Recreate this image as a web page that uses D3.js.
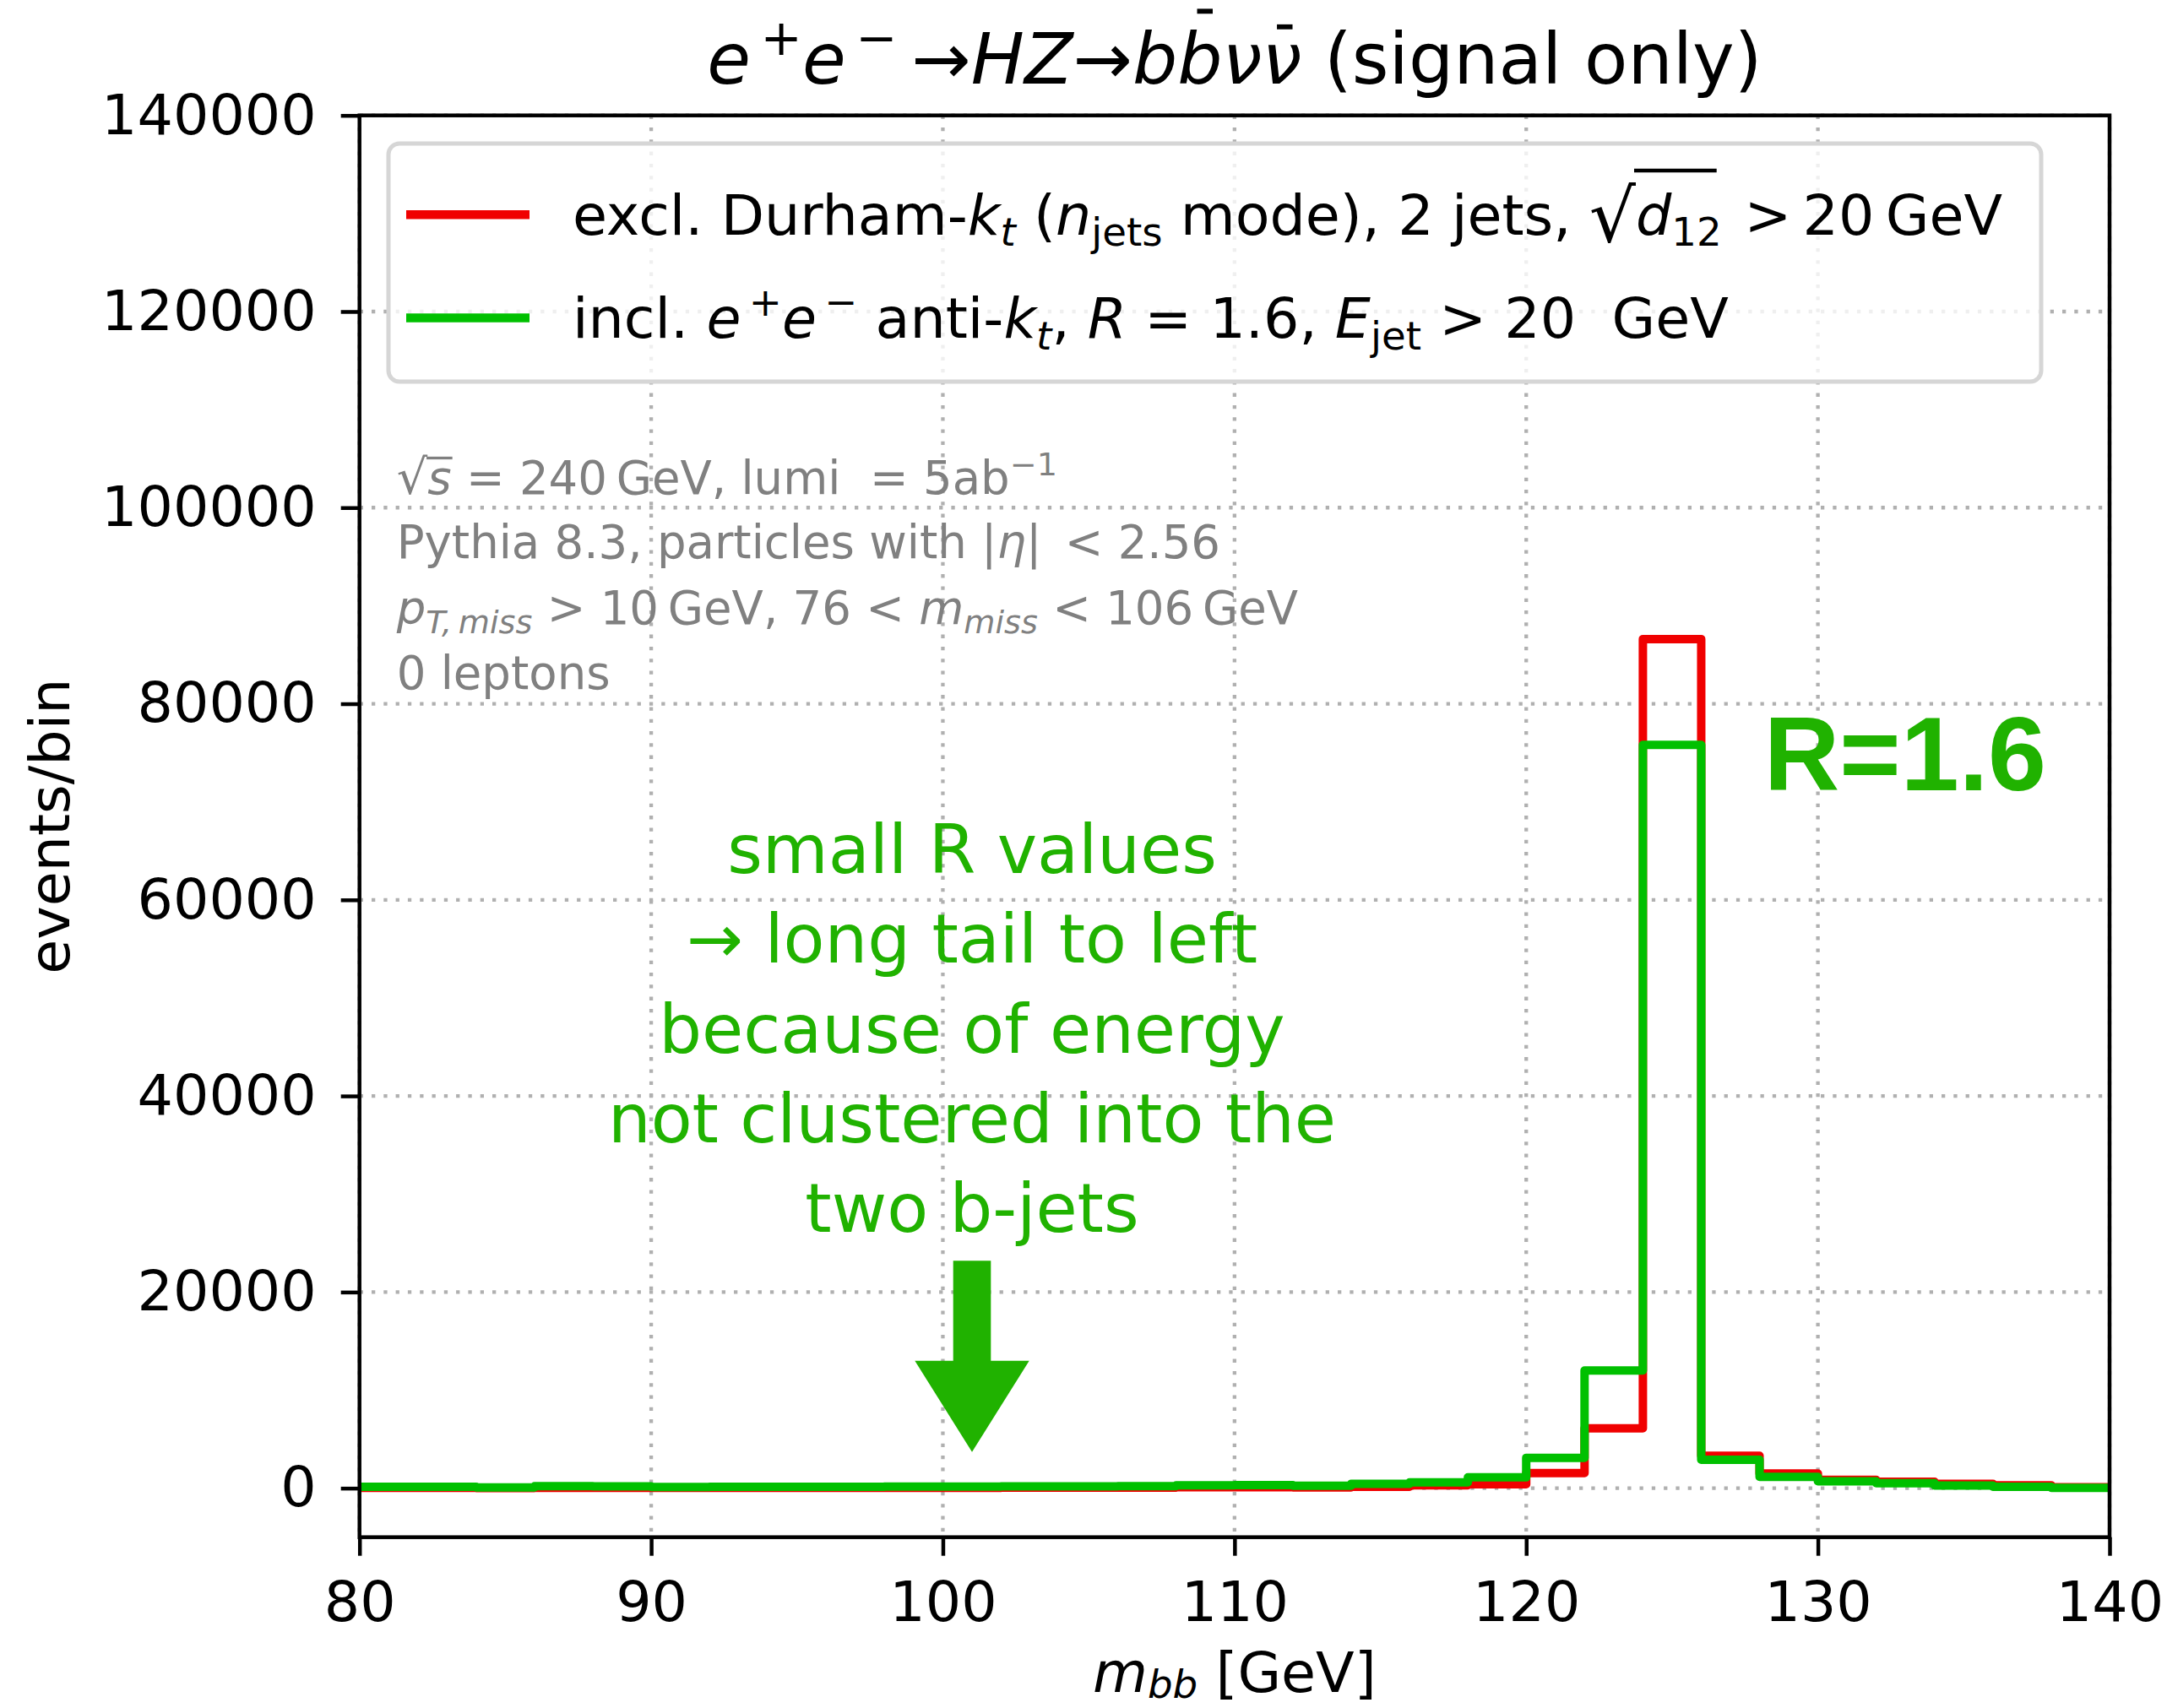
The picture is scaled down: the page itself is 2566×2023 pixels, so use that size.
<!DOCTYPE html>
<html>
<head>
<meta charset="utf-8">
<script src="https://cdn.jsdelivr.net/npm/d3@7"></script>
<style>
  html, body { margin: 0; padding: 0; background: #fff; }
  svg text { white-space: pre; }
</style>
</head>
<body>
<svg id="chart" width="2566" height="2023"></svg>
<script>
// ---- data: m_bb histogram, 2 GeV bins ----
const binLow = [80, 82, 84, 86, 88, 90, 92, 94, 96, 98, 100, 102, 104, 106, 108,
                110, 112, 114, 116, 118, 120, 122, 124, 126, 128, 130, 132, 134, 136, 138];
const binWidth = 2;
// exclusive Durham-kt, 2 jets
const durham = [30, 30, 20, 30, 30, 30, 30, 30, 40, 40, 40, 50, 50, 60, 100,
                100, 80, 150, 300, 400, 1550, 6100, 86600, 3300, 1500, 850, 650, 450, 300, 100];
// inclusive e+e- anti-kt, R = 1.6
const antikt = [150, 150, 80, 200, 180, 120, 130, 140, 150, 160, 170, 180, 190, 200, 300,
                320, 250, 450, 600, 1100, 3100, 12000, 75800, 2900, 1150, 700, 500, 280, 150, 30];

const xTicks = [80, 90, 100, 110, 120, 130, 140];
const yTicks = [0, 20000, 40000, 60000, 80000, 100000, 120000, 140000];
const xDomain = [80, 140];
const yDomain = [-5000, 140000];

const seriesNames = ["durham", "antikt"];
const seriesColors = ["#f00000", "#00c000"];

// arrow pointing at the low-mass tail (data units)
const arrowX = 101;
const arrowTail = 23200;
const arrowHeadBase = 13000;
const arrowTip = 3700;

const noteLines = ["small R values", "\u2192 long tail to left", "because of energy",
                   "not clustered into the", "two b-jets"];

// ---- layout ----
const FONT = "DejaVu Sans";
const W = 2566, H = 2023;
const pLeft = 425.7, pRight = 2498, pTop = 136.7, pBottom = 1820.7;
const svg = d3.select("#chart");
svg.append("rect").attr("width", W).attr("height", H).attr("fill", "#fff");

const x = d3.scaleLinear().domain(xDomain).range([pLeft, pRight]);
const y = d3.scaleLinear().domain(yDomain).range([pBottom, pTop]);

// rich text: segments with italic / sub / sup / overline options
function richText(parent, segs, o) {
  const size = o.size;
  const subShift = o.subShift != null ? o.subShift : 0.2;
  const t = parent.append("text")
    .attr("x", o.x).attr("y", o.y)
    .attr("font-family", o.family || FONT)
    .attr("font-size", size)
    .attr("text-anchor", o.anchor || "start")
    .attr("fill", o.fill || "#000")
    .attr("xml:space", "preserve");
  let cur = 0, idx = 0;
  const marks = [];
  segs.forEach(s => {
    const scale = (s.sub || s.sup) ? 0.7 : (s.scale || 1);
    const off = s.sub ? subShift * size : s.sup ? -0.4 * size : (s.shift || 0) * size;
    const sp = t.append("tspan").text(s.t).attr("font-size", size * scale);
    if (off - cur !== 0) sp.attr("dy", off - cur);
    if (s.i) sp.attr("font-style", "italic");
    cur = off;
    if (s.over) marks.push({ from: idx, to: idx + s.t.length - 1, over: s.over });
    idx += s.t.length;
  });
  const node = t.node();
  marks.forEach(m => {
    const a = node.getStartPositionOfChar(m.from);
    const b = node.getEndPositionOfChar(m.to);
    const yy = o.y - m.over.h * size;
    let x0 = a.x + (m.over.dx0 || 0) * size, x1 = b.x + (m.over.dx1 || 0) * size;
    if (m.over.accent) {
      const c = (a.x + b.x) / 2 + (m.over.shift || 0) * size;
      x0 = c - m.over.accent * size / 2; x1 = c + m.over.accent * size / 2;
    }
    parent.append("line")
      .attr("x1", x0).attr("x2", x1).attr("y1", yy).attr("y2", yy)
      .attr("stroke", o.fill || "#000").attr("stroke-width", (m.over.w || 0.075) * size);
  });
  return t;
}

// ---- grid ----
const grid = svg.append("g").attr("stroke", "#b0b0b0").attr("stroke-width", 4.3)
  .attr("stroke-dasharray", "4.3,10");
grid.selectAll("line.gx").data(xTicks).join("line").attr("class", "gx")
  .attr("x1", d => x(d)).attr("x2", d => x(d)).attr("y1", pTop).attr("y2", pBottom);
grid.selectAll("line.gy").data(yTicks).join("line").attr("class", "gy")
  .attr("y1", d => y(d)).attr("y2", d => y(d)).attr("x1", pLeft).attr("x2", pRight);

// ---- histograms ----
svg.append("clipPath").attr("id", "plotclip").append("rect")
  .attr("x", pLeft).attr("y", pTop).attr("width", pRight - pLeft).attr("height", pBottom - pTop);

function stepPoints(vals) {
  const pts = [[binLow[0], 0]];
  vals.forEach((v, i) => pts.push([binLow[i], v]));
  const end = binLow[binLow.length - 1] + binWidth;
  pts.push([end, vals[vals.length - 1]]);
  pts.push([end, 0]);
  return pts;
}
const stepLine = d3.line().x(d => x(d[0])).y(d => y(d[1])).curve(d3.curveStepAfter);
const hist = svg.append("g").attr("clip-path", "url(#plotclip)");
[durham, antikt].forEach((vals, k) => {
  hist.append("path").attr("d", stepLine(stepPoints(vals)))
    .attr("fill", "none").attr("stroke", seriesColors[k]).attr("stroke-width", 10)
    .attr("stroke-linejoin", "round").attr("stroke-linecap", "butt")
    .attr("class", seriesNames[k]);
});

// ---- axes ----
const xAxis = svg.append("g").attr("transform", `translate(0,${pBottom})`)
  .call(d3.axisBottom(x).tickValues(xTicks).tickSize(22).tickPadding(30).tickFormat(d3.format("d")));
const yAxis = svg.append("g").attr("transform", `translate(${pLeft},0)`)
  .call(d3.axisLeft(y).tickValues(yTicks).tickSize(22).tickPadding(29).tickFormat(d3.format("d")));
[xAxis, yAxis].forEach(a => {
  a.select(".domain").remove();
  a.selectAll(".tick line").attr("stroke", "#000").attr("stroke-width", 4.5);
  a.selectAll(".tick text").attr("font-family", FONT).attr("font-size", 66.7).attr("fill", "#000");
});

// spines
svg.append("rect").attr("x", pLeft).attr("y", pTop).attr("width", pRight - pLeft).attr("height", pBottom - pTop)
  .attr("fill", "none").attr("stroke", "#000").attr("stroke-width", 4.5);

// ---- title & axis labels ----
const midX = (pLeft + pRight) / 2;
richText(svg, [
  { t: "e", i: 1 }, { t: "\u2009+", sup: 1 }, { t: "e", i: 1 }, { t: "\u2009\u2212", sup: 1 },
  { t: "\u2009\u2192" }, { t: "HZ", i: 1 }, { t: "\u2192" },
  { t: "b", i: 1 }, { t: "b", i: 1, over: { accent: 0.22, h: 1.02, shift: 0.07, w: 0.07 } },
  { t: "\u03bd", i: 1 }, { t: "\u03bd", i: 1, over: { accent: 0.22, h: 0.8, shift: 0.04, w: 0.07 } },
  { t: " (signal only)" }
], { x: midX, y: 99, size: 84, anchor: "middle" });

richText(svg, [{ t: "m", i: 1 }, { t: "bb", i: 1, sub: 1 }, { t: " [GeV]" }],
  { x: midX, y: 2004, size: 66.7, anchor: "middle", subShift: 0.11 });

svg.append("text").attr("transform", `translate(82,${(pTop + pBottom) / 2}) rotate(-90)`)
  .attr("text-anchor", "middle").attr("font-family", FONT).attr("font-size", 66.7)
  .text("events/bin");

// ---- info text ----
const gray = "#808080";
const infoX = pLeft + 44;
const infoSize = 54.5;
richText(svg, [
  { t: "\u221a", scale: 1.05 }, { t: "s", i: 1, over: { h: 0.78, dx0: -0.02, dx1: 0.02, w: 0.06 } },
  { t: " = 240\u2009GeV, lumi  = 5ab" }, { t: "\u22121", sup: 1 }
], { x: infoX, y: 585, size: infoSize, fill: gray });
richText(svg, [
  { t: "Pythia 8.3, particles with |" }, { t: "\u03b7", i: 1 }, { t: "|\u2002< 2.56" }
], { x: infoX, y: 661, size: infoSize, fill: gray });
richText(svg, [
  { t: "p", i: 1 }, { t: "T,\u2009miss", i: 1, sub: 1 }, { t: " > 10\u2009GeV, 76 < " },
  { t: "m", i: 1 }, { t: "miss", i: 1, sub: 1 }, { t: " < 106\u2009GeV" }
], { x: infoX, y: 739, size: infoSize, fill: gray });
richText(svg, [{ t: "0 leptons" }], { x: infoX, y: 816, size: infoSize, fill: gray });

// ---- annotation: low-mass tail ----
const noteColor = "#20b200";
const note = svg.append("g").attr("font-family", FONT).attr("font-size", 80)
  .attr("fill", noteColor).attr("text-anchor", "middle");
note.selectAll("text").data(noteLines).join("text")
  .attr("x", x(arrowX)).attr("y", (d, i) => 1034 + i * 106.3).text(d => d);

const shaftHalf = 22.3, headHalf = 67.7;
const ax = x(arrowX);
svg.append("path").attr("fill", noteColor).attr("d", d3.line()([
  [ax - shaftHalf, y(arrowTail)], [ax + shaftHalf, y(arrowTail)],
  [ax + shaftHalf, y(arrowHeadBase)], [ax + headHalf, y(arrowHeadBase)],
  [ax, y(arrowTip)], [ax - headHalf, y(arrowHeadBase)],
  [ax - shaftHalf, y(arrowHeadBase)]
]) + "Z");

svg.append("text").attr("x", x(128.15)).attr("y", y(71200))
  .attr("font-family", "Liberation Sans").attr("font-weight", "bold").attr("font-size", 124)
  .attr("fill", noteColor).text("R=1.6");

// ---- legend ----
const leg = svg.append("g");
leg.append("rect").attr("x", 460).attr("y", 170).attr("width", 1957).attr("height", 282)
  .attr("rx", 13).attr("fill", "#fff").attr("fill-opacity", 0.8)
  .attr("stroke", "#d6d6d6").attr("stroke-width", 5);
const legY = [254.3, 376.5];
seriesColors.forEach((c, k) => {
  leg.append("line").attr("x1", 481).attr("x2", 627).attr("y1", legY[k]).attr("y2", legY[k])
    .attr("stroke", c).attr("stroke-width", 10.5);
});
richText(leg, [
  { t: "excl. Durham-" }, { t: "k", i: 1 }, { t: "t", i: 1, sub: 1 }, { t: " (" },
  { t: "n", i: 1 }, { t: "jets", sub: 1 }, { t: " mode), 2 jets, " },
  { t: "\u221a", scale: 1.3, shift: 0.12 },
  { t: "d", i: 1, over: { h: 1.14, dx0: -0.03, dx1: 0.8, w: 0.07 } }, { t: "12", sub: 1 },
  { t: "\u2009\u2009>\u200920\u2009GeV" }
], { x: 678, y: legY[0] + 23.7, size: 66.7 });
richText(leg, [
  { t: "incl. " }, { t: "e", i: 1 }, { t: "\u2009+", sup: 1 }, { t: "e", i: 1 }, { t: "\u2009\u2212", sup: 1 },
  { t: " anti-" }, { t: "k", i: 1 }, { t: "t", i: 1, sub: 1 }, { t: ", " },
  { t: "R", i: 1 }, { t: " = 1.6, " }, { t: "E", i: 1 }, { t: "jet", sub: 1 }, { t: " > 20  GeV" }
], { x: 678, y: legY[1] + 23.7, size: 66.7 });
</script>
</body>
</html>
